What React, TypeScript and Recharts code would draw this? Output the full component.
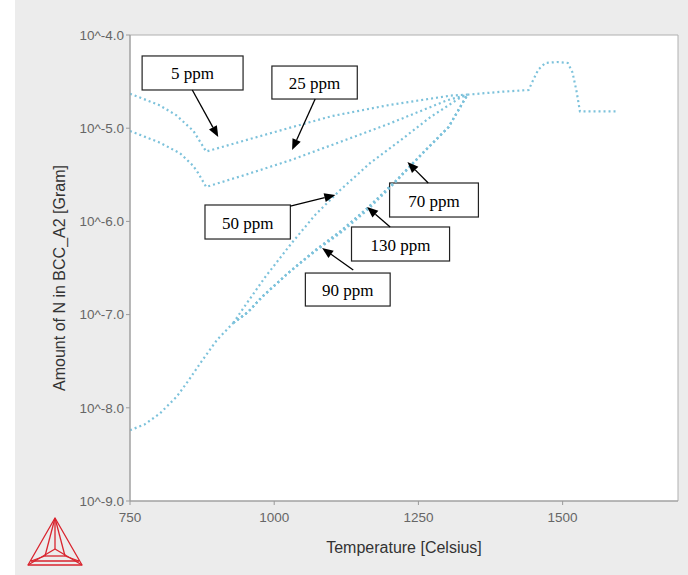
import React from 'react';
import { LineChart, Line, XAxis, YAxis, CartesianGrid, ReferenceArea, ReferenceLine } from 'recharts';

// Axis ticks (x in Celsius, y as log10 exponent)
const X_TICKS = [750, 1000, 1250, 1500];
const Y_TICKS = [-9, -8, -7, -6, -5, -4];

// Common high-temperature tail (all compositions merge here)
const TAIL_T = [1335, 1392, 1441, 1450, 1458, 1470, 1490, 1509, 1517, 1524, 1530, 1560, 1595];
const TAIL_N = [-4.64, -4.61, -4.59, -4.47, -4.37, -4.3, -4.29, -4.3, -4.4, -4.6, -4.82, -4.82, -4.82];

// 5 ppm
const T_5 = [750, 800, 830, 860, 875, 882, 950, 1030, 1100, 1200, 1306, 1335];
const N_5 = [-4.63, -4.75, -4.86, -5.03, -5.18, -5.25, -5.13, -4.99, -4.87, -4.75, -4.65, -4.64];

// 25 ppm
const T_25 = [750, 800, 837, 859, 868, 882, 950, 1030, 1100, 1200, 1300, 1335];
const N_25 = [-5.03, -5.15, -5.27, -5.4, -5.48, -5.63, -5.5, -5.34, -5.18, -4.95, -4.7, -4.64];

// Low-temperature branch shared by 50/70/90/130 ppm
const LOW_T = [750, 775, 802, 831, 850, 872, 901, 929];
const LOW_N = [-8.24, -8.18, -8.06, -7.88, -7.72, -7.52, -7.27, -7.09];

// 50 ppm
const T_50 = [929, 950, 984, 1028, 1071, 1115, 1167, 1219, 1271, 1323, 1335];
const N_50 = [-7.09, -6.9, -6.6, -6.25, -5.93, -5.66, -5.37, -5.13, -4.88, -4.67, -4.64];

// 70 ppm
const T_70 = [929, 955, 979, 1025, 1071, 1118, 1163, 1210, 1257, 1302, 1335];
const N_70 = [-7.09, -6.97, -6.81, -6.55, -6.31, -6.09, -5.85, -5.57, -5.27, -4.99, -4.64];

// 90 ppm
const T_90 = [929, 955, 979, 1025, 1071, 1118, 1163, 1210, 1257, 1302, 1335];
const N_90 = [-7.09, -6.97, -6.81, -6.55, -6.31, -6.09, -5.85, -5.57, -5.27, -4.99, -4.64];

// 130 ppm
const T_130 = [929, 955, 979, 1025, 1071, 1118, 1163, 1210, 1257, 1302, 1335];
const N_130 = [-7.09, -6.97, -6.81, -6.55, -6.32, -6.11, -5.87, -5.58, -5.27, -4.99, -4.64];

// Annotation labels with box ranges and arrows (data coordinates)
const ANN_LABELS = ['5 ppm', '25 ppm', '50 ppm', '70 ppm', '130 ppm', '90 ppm'];
const ANN_BOX_T = [[771, 946], [996, 1144], [880, 1028], [1200, 1354], [1134, 1304], [1054, 1201]];
const ANN_BOX_N = [[-4.225, -4.59], [-4.333, -4.687], [-5.824, -6.189], [-5.588, -5.953], [-6.06, -6.425], [-6.554, -6.908]];
const ANN_ARROW = [
  [[858, -4.59], [903, -5.094]],
  [[1071, -4.687], [1031, -5.234]],
  [[1028, -5.835], [1106, -5.717]],
  [[1267, -5.588], [1231, -5.363]],
  [[1201, -6.06], [1161, -5.845]],
  [[1137, -6.521], [1083, -6.285]],
];

const zip = (ts: number[], ns: number[]) => ts.map((t, i) => ({ x: t, y: ns[i] }));

const SERIES = [
  { name: '5 ppm', data: zip(T_5, N_5) },
  { name: '25 ppm', data: zip(T_25, N_25) },
  { name: 'low branch', data: zip(LOW_T, LOW_N) },
  { name: '50 ppm', data: zip(T_50, N_50) },
  { name: '70 ppm', data: zip(T_70, N_70) },
  { name: '90 ppm', data: zip(T_90, N_90) },
  { name: '130 ppm', data: zip(T_130, N_130) },
  { name: 'common', data: zip(TAIL_T, TAIL_N) },
];

const LINE_COLOR = '#7dc2db';
const AXIS_COLOR = '#9a9a9a';
const TICK_STYLE = { fill: '#666', fontSize: 13.5, fontFamily: 'Liberation Sans, Arial, sans-serif' };

const fmtTick = (v: number) => `10^${v.toFixed(1)}`;

const Arrow = (p: any) => {
  const { x1, y1, x2, y2 } = p;
  const ang = Math.atan2(y2 - y1, x2 - x1);
  const L = 11;
  const W = 4.5;
  const bx = x2 - L * Math.cos(ang);
  const by = y2 - L * Math.sin(ang);
  const px = -Math.sin(ang) * W;
  const py = Math.cos(ang) * W;
  return (
    <g>
      <line x1={x1} y1={y1} x2={bx} y2={by} stroke="#000" strokeWidth={1.3} />
      <polygon points={`${x2},${y2} ${bx + px},${by + py} ${bx - px},${by - py}`} fill="#000" />
    </g>
  );
};

const makeBox = (label: string) => (p: any) => {
  const { x, y, width, height } = p;
  return (
    <g>
      <rect x={x} y={y} width={width} height={height} fill="#fff" stroke="#222" strokeWidth={1.2} />
      <text
        x={x + width / 2}
        y={y + height / 2 + 1}
        textAnchor="middle"
        dominantBaseline="central"
        fontSize={17}
        fontFamily="Liberation Serif, 'Times New Roman', serif"
        fill="#000"
      >
        {label}
      </text>
    </g>
  );
};

const Logo = () => (
  <svg width={688} height={575} style={{ position: 'absolute', left: 0, top: 0, pointerEvents: 'none' }}>
    <g stroke="#d9252f" strokeWidth={1.3} fill="none" strokeLinejoin="round">
      <polygon points="55,518 28,565 82,565" />
      <line x1={31} y1={561} x2={79} y2={561} />
      <line x1={55} y1={518} x2={55} y2={549} />
      <line x1={28} y1={565} x2={55} y2={549} />
      <line x1={82} y1={565} x2={55} y2={549} />
      <line x1={55} y1={518} x2={45} y2={556} />
      <line x1={55} y1={518} x2={65} y2={556} />
      <line x1={45} y1={556} x2={65} y2={556} />
      <line x1={31} y1={561} x2={45} y2={556} />
      <line x1={79} y1={561} x2={65} y2={556} />
    </g>
  </svg>
);

export default function App() {
  return (
    <div style={{ position: 'absolute', left: 0, top: 0, width: 688, height: 575, background: '#fff', overflow: 'hidden' }}>
      <div style={{ position: 'absolute', left: 15, top: 0, width: 673, height: 575, background: '#ececec' }} />
      <div style={{ position: 'absolute', left: 0, top: 0 }}>
        <LineChart width={688} height={575} margin={{ top: 35, right: 10, left: 0, bottom: 0 }}>
          <CartesianGrid fill="#fff" horizontal={false} vertical={false} stroke="none" />
          <XAxis
            type="number"
            dataKey="x"
            domain={[750, 1700]}
            ticks={X_TICKS}
            allowDataOverflow
            height={74}
            tick={TICK_STYLE}
            tickSize={4}
            tickMargin={7}
            axisLine={{ stroke: AXIS_COLOR }}
            tickLine={{ stroke: AXIS_COLOR }}
            label={(p: any) => {
              const vb = p.viewBox || {};
              return (
                <text
                  x={vb.x + vb.width / 2}
                  y={vb.y + 46}
                  textAnchor="middle"
                  dominantBaseline="central"
                  fontSize={16}
                  fontFamily="Liberation Sans, Arial, sans-serif"
                  fill="#333"
                >
                  Temperature [Celsius]
                </text>
              );
            }}
          />
          <YAxis
            type="number"
            dataKey="y"
            domain={[-9, -4]}
            ticks={Y_TICKS}
            allowDataOverflow
            width={130}
            tick={TICK_STYLE}
            tickSize={4}
            tickMargin={2}
            tickFormatter={fmtTick}
            axisLine={{ stroke: AXIS_COLOR }}
            tickLine={{ stroke: AXIS_COLOR }}
            label={(p: any) => {
              const vb = p.viewBox || {};
              const cx = vb.x + 59;
              const cy = vb.y + vb.height / 2 + 10;
              return (
                <text
                  x={cx}
                  y={cy}
                  transform={`rotate(-90, ${cx}, ${cy})`}
                  textAnchor="middle"
                  dominantBaseline="central"
                  fontSize={16}
                  fontFamily="Liberation Sans, Arial, sans-serif"
                  fill="#333"
                >
                  Amount of N in BCC_A2 [Gram]
                </text>
              );
            }}
          />
          <ReferenceArea x1={750} x2={1700} y1={-9} y2={-4} fill="none" stroke="#b0b0b0" strokeWidth={1} ifOverflow="visible" />
          {SERIES.map((s) => (
            <Line
              key={s.name}
              name={s.name}
              data={s.data}
              dataKey="y"
              type="linear"
              stroke={LINE_COLOR}
              strokeWidth={2.2}
              strokeDasharray="2 3"
              dot={false}
              activeDot={false}
              isAnimationActive={false}
            />
          ))}
          {ANN_LABELS.map((lab, i) => (
            <ReferenceLine
              key={'a' + lab}
              segment={[
                { x: ANN_ARROW[i][0][0], y: ANN_ARROW[i][0][1] },
                { x: ANN_ARROW[i][1][0], y: ANN_ARROW[i][1][1] },
              ]}
              shape={Arrow}
              ifOverflow="visible"
            />
          ))}
          {ANN_LABELS.map((lab, i) => (
            <ReferenceArea
              key={'b' + lab}
              x1={ANN_BOX_T[i][0]}
              x2={ANN_BOX_T[i][1]}
              y1={ANN_BOX_N[i][0]}
              y2={ANN_BOX_N[i][1]}
              shape={makeBox(lab)}
              ifOverflow="visible"
            />
          ))}
        </LineChart>
      </div>
      <Logo />
    </div>
  );
}
